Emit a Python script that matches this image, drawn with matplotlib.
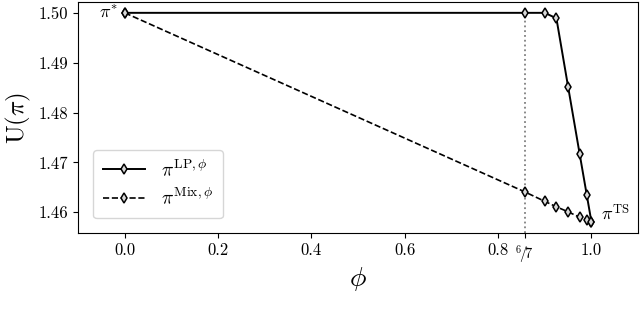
import matplotlib
matplotlib.use("Agg")
import matplotlib.pyplot as plt

plt.rcParams['font.family'] = 'serif'
plt.rcParams['font.serif'] = ['cmr10', 'DejaVu Serif']
plt.rcParams['mathtext.fontset'] = 'cm'
plt.rcParams['axes.formatter.use_mathtext'] = True
plt.rcParams['axes.unicode_minus'] = False

phi_lp = [0.0, 6/7, 0.9, 0.925, 0.95, 0.975, 0.99, 1.0]
u_lp = [1.5000, 1.5000, 1.5000, 1.4989, 1.4852, 1.4716, 1.4635, 1.4581]
phi_mix = [0.0, 6/7, 0.9, 0.925, 0.95, 0.975, 0.99, 1.0]
u_mix = [1.5000, 1.4641, 1.4622, 1.4611, 1.4601, 1.4590, 1.4585, 1.4581]
xticks = [0.0, 0.2, 0.4, 0.6, 0.8, 6/7, 1.0]
xticklabels = ['0.0', '0.2', '0.4', '0.6', '0.8', r'$^{6}\!/\!7$', '1.0']
yticks = [1.46, 1.47, 1.48, 1.49, 1.50]
yticklabels = ['1.46', '1.47', '1.48', '1.49', '1.50']

fig = plt.figure(figsize=(6.4, 3.11), dpi=100)
ax = fig.add_axes([0.122, 0.25, 0.875, 0.744])

mk = dict(marker='d', ms=5, mfc='#d8d8d8', mec='black', mew=1.1)
ax.plot(phi_lp, u_lp, '-', color='black', lw=1.4, label=r'$\pi^{\mathrm{LP},\phi}$', zorder=3, **mk)
ax.plot(phi_mix, u_mix, '--', color='black', lw=1.2, label=r'$\pi^{\mathrm{Mix},\phi}$', zorder=3, **mk)

ax.set_xlim(-0.1, 1.1)
ax.set_ylim(1.4558, 1.5022)
ax.vlines(6/7, 1.4558, 1.5, colors='gray', linestyles=':', lw=1.3, zorder=1)

ax.set_xticks(xticks)
ax.set_xticklabels(xticklabels)
ax.set_yticks(yticks)
ax.set_yticklabels(yticklabels)
ax.tick_params(labelsize=12)
ax.get_xticklabels()[5].set_fontsize(10.5)

ax.set_xlabel(r'$\phi$', fontsize=20, labelpad=0)
ax.set_ylabel(r'$\mathrm{U}(\pi)$', fontsize=18)

ax.text(-0.015, 1.5001, r'$\pi^{*}$', ha='right', va='center', fontsize=13)
ax.text(1.02, 1.4581, r'$\pi^{\mathrm{TS}}$', ha='left', va='bottom', fontsize=13)

ax.legend(loc='lower left', bbox_to_anchor=(0.009, 0.022), fontsize=14, handlelength=2.2,
          borderpad=0.5, labelspacing=0.4, fancybox=True, framealpha=0.8)

fig.savefig('out.png', dpi=100)
